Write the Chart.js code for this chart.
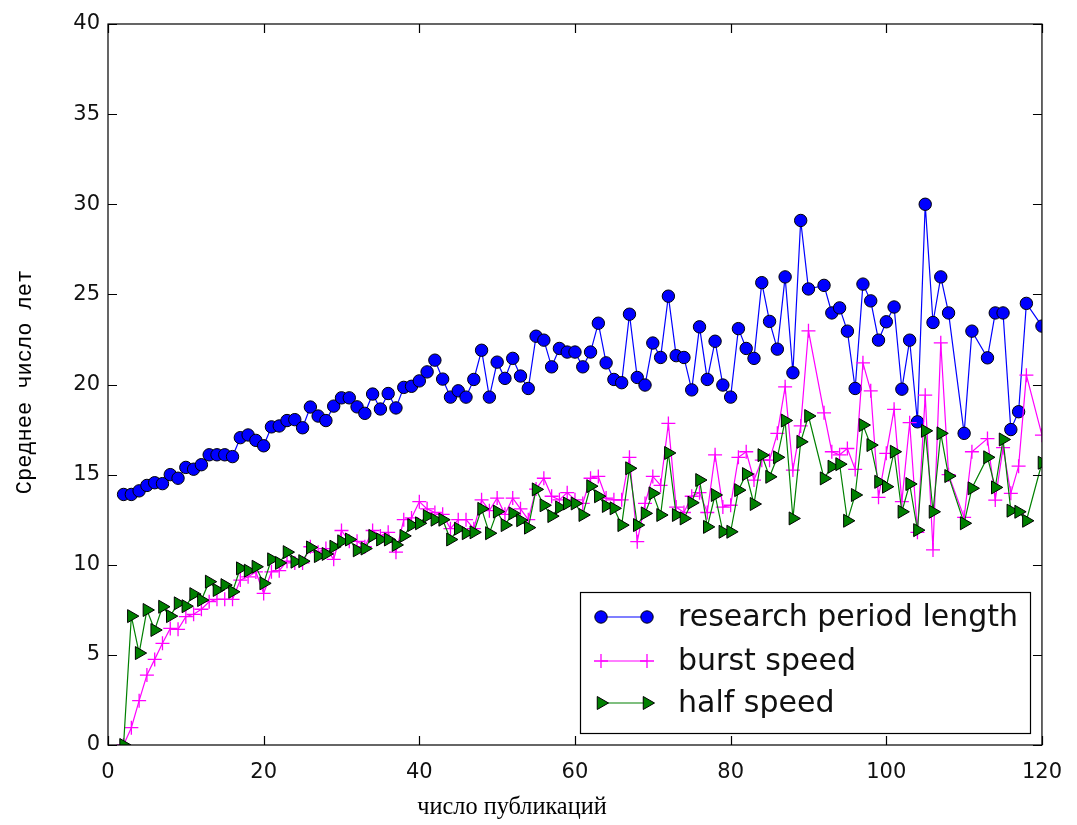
<!DOCTYPE html>
<html>
<head>
<meta charset="utf-8">
<script src="https://cdn.jsdelivr.net/npm/chart.js@4.4.1/dist/chart.umd.min.js"></script>
<style>
html,body{margin:0;padding:0;background:#fff;}
#wrap{width:1077px;height:825px;}
</style>
</head>
<body>
<div id="wrap"><canvas id="c" width="1077" height="825"></canvas></div>
<script>
// ---- data ----
const pubCounts = [2,3,4,5,6,7,8,9,10,11,12,13,14,15,16,17,18,19,20,21,22,23,24,25,26,27,28,29,30,
  31,32,33,34,35,36,37,38,39,40,41,42,43,44,45,46,47,48,49,50,51,52,53,54,55,56,57,58,59,60,
  61,62,63,64,65,66,67,68,69,70,71,72,73,74,75,76,77,78,79,80,81,82,83,84,85,86,87,88,89,90,
  92,93,94,95,96,97,98,99,100,101,102,103,104,105,106,107,108,110,111,113,114,115,116,117,118,120];

const researchPeriod = [13.9,13.9,14.1,14.4,14.55,14.5,15.0,14.8,15.4,15.3,15.55,16.1,16.1,16.1,16.0,17.05,17.2,16.9,16.6,17.65,17.7,18.0,18.05,17.6,18.75,18.25,18.0,18.8,19.26,
  19.26,18.76,18.4,19.47,18.64,19.5,18.7,19.84,19.9,20.2,20.7,21.35,20.3,19.3,19.65,19.3,20.28,21.9,19.3,21.24,20.34,21.45,20.47,19.78,22.68,22.46,20.98,22.0,21.8,21.8,
  20.98,21.8,23.4,21.2,20.28,20.1,23.9,20.39,19.97,22.3,21.5,24.9,21.6,21.5,19.7,23.2,20.28,22.4,19.97,19.3,23.1,22.0,21.45,25.65,23.5,21.96,25.97,20.65,29.1,25.3,
  25.5,23.97,24.25,22.96,19.78,25.57,24.64,22.46,23.48,24.3,19.74,22.46,17.93,30.0,23.44,25.97,23.97,17.29,22.96,21.48,23.97,23.97,17.5,18.49,24.5,23.24];

const burstSpeed = [0,0.96,2.46,3.88,4.75,5.64,6.47,6.42,7.12,7.25,7.53,7.95,8.08,8.08,8.08,9.15,9.33,9.6,8.41,9.61,9.67,10.2,10.1,10.1,11.0,10.7,10.9,10.3,11.9,
  11.3,11.3,11.0,11.9,11.6,11.8,10.7,12.5,12.6,13.5,13.1,12.9,12.8,12.0,12.5,12.5,12.0,13.6,13.0,13.7,12.8,13.7,13.1,12.5,14.2,14.8,13.8,13.6,14.0,13.6,
  13.4,14.8,14.9,13.7,13.6,13.6,15.96,11.28,13.4,14.9,14.4,17.84,13.2,12.9,13.8,14.0,12.9,16.1,13.2,13.3,15.96,16.27,14.7,15.8,15.8,17.29,19.87,15.25,17.7,22.98,
  18.43,16.27,16.1,16.45,15.29,21.2,19.65,13.74,16.18,18.62,13.5,17.88,11.8,19.41,10.82,22.31,15.0,12.63,16.27,17.0,13.59,16.5,13.96,15.47,20.52,17.19];

const halfSpeed = [0,7.15,5.1,7.49,6.38,7.67,7.15,7.86,7.7,8.37,8.04,9.06,8.6,8.87,8.5,9.8,9.67,9.89,8.97,10.3,10.1,10.7,10.17,10.2,10.96,10.48,10.6,11.0,11.3,
  11.4,10.8,10.9,11.6,11.4,11.4,11.1,11.6,12.2,12.3,12.7,12.5,12.5,11.4,12.0,11.75,11.8,13.1,11.75,12.95,12.2,12.85,12.47,12.06,14.18,13.3,12.7,13.18,13.4,13.4,
  12.76,14.36,13.8,13.26,13.13,12.2,15.35,12.2,12.85,13.96,12.76,16.2,12.76,12.57,13.44,14.7,12.1,13.87,11.83,11.83,14.14,15.03,13.37,16.08,14.88,15.96,18.0,12.57,16.82,18.25,
  14.79,15.44,15.58,12.44,13.87,17.75,16.64,14.6,14.33,16.27,12.94,14.48,11.92,17.43,12.94,17.29,14.92,12.3,14.24,15.96,14.29,16.95,13.0,12.94,12.44,15.66];

const xTicks = [0,20,40,60,80,100,120];
const yTicks = [0,5,10,15,20,25,30,35,40];
const seriesNames = ['research period length','burst speed','half speed'];
const xTitle = 'число публикаций';
const yTitle = 'Среднее число лет';

const toPts = arr => pubCounts.map((x,i)=>({x:x,y:arr[i]}));

const frameTicks = {
  id:'frameTicks',
  afterDraw(chart){
    const ctx = chart.ctx, a = chart.chartArea;
    const xs = chart.scales.x, ys = chart.scales.y;
    ctx.save();
    ctx.strokeStyle = '#000'; ctx.lineWidth = 1.2;
    ctx.strokeRect(a.left, a.top, a.right-a.left, a.bottom-a.top);
    const L = 9;
    ctx.beginPath();
    yTicks.forEach(v=>{
      const p = Math.round(ys.getPixelForValue(v))+0.5;
      ctx.moveTo(a.left,p); ctx.lineTo(a.left+L,p);
      ctx.moveTo(a.right,p); ctx.lineTo(a.right-L,p);
    });
    xTicks.forEach(v=>{
      const p = Math.round(xs.getPixelForValue(v))+0.5;
      ctx.moveTo(p,a.bottom); ctx.lineTo(p,a.bottom-L);
      ctx.moveTo(p,a.top); ctx.lineTo(p,a.top+L);
    });
    ctx.stroke();

    // axis titles
    ctx.fillStyle = '#000';
    ctx.textAlign = 'center'; ctx.textBaseline = 'middle';
    ctx.font = '20px "Liberation Serif"';
    const w = ctx.measureText(xTitle).width;
    const fs = 20*189/w;
    ctx.font = fs.toFixed(1)+'px "Liberation Serif"';
    ctx.fillText(xTitle, 512, 808);
    ctx.save();
    ctx.translate(25, 382);
    ctx.rotate(-Math.PI/2);
    ctx.font = '22px "Liberation Mono"';
    ctx.fillText(yTitle, 0, 0);
    ctx.restore();

    // legend
    const bx=580, by=592, bw=450, bh=141;
    ctx.fillStyle='#fff';
    ctx.fillRect(bx,by,bw,bh);
    ctx.lineWidth=1.2; ctx.strokeStyle='#000';
    ctx.strokeRect(bx+0.5,by+0.5,bw,bh);
    const rows=[617,661,703];
    const x1=601, x2=647;
    ctx.font='26px "DejaVu Sans"';
    const lw = ctx.measureText(seriesNames[0]).width;
    const lfs = 26*340/lw;
    ctx.font=lfs.toFixed(1)+'px "DejaVu Sans"';
    ctx.textAlign='left';
    ctx.textBaseline='middle';
    rows.forEach((ry,i)=>{
      const ds = chart.data.datasets[i];
      ctx.beginPath(); ctx.strokeStyle=ds.borderColor; ctx.lineWidth=1.2;
      ctx.moveTo(x1,ry); ctx.lineTo(x2,ry); ctx.stroke();
      [x1,x2].forEach(px=>{
        ctx.fillStyle = ds.pointBackgroundColor;
        ctx.strokeStyle = ds.pointBorderColor;
        ctx.lineWidth = ds.pointBorderWidth;
        Chart.helpers.drawPoint(ctx,{pointStyle:ds.pointStyle,rotation:ds.pointRotation||0,radius:ds.pointRadius,borderWidth:ds.pointBorderWidth},px,ry);
      });
      ctx.fillStyle='#111';
      ctx.fillText(seriesNames[i],678,ry+1);
    });
    ctx.restore();
  }
};

const chart = new Chart(document.getElementById('c'), {
  type:'line',
  data:{
    datasets:[
      {label:seriesNames[0], data:toPts(researchPeriod), borderColor:'#0000ff', borderWidth:1.2,
       pointStyle:'circle', pointRadius:6.2, pointBackgroundColor:'#0000ff', pointBorderColor:'#000', pointBorderWidth:1, order:2},
      {label:seriesNames[1], data:toPts(burstSpeed), borderColor:'#ff00ff', borderWidth:1.2,
       pointStyle:'cross', pointRadius:7, pointBackgroundColor:'#ff00ff', pointBorderColor:'#ff00ff', pointBorderWidth:1.3, order:1},
      {label:seriesNames[2], data:toPts(halfSpeed), borderColor:'#008000', borderWidth:1.2,
       pointStyle:'triangle', pointRotation:90, pointRadius:7.5, pointBackgroundColor:'#008000', pointBorderColor:'#000', pointBorderWidth:1, order:0}
    ]
  },
  options:{
    responsive:false, animation:false, devicePixelRatio:1,
    layout:{padding:{left:0,right:35,top:24,bottom:0}},
    plugins:{legend:{display:false}, tooltip:{enabled:false}},
    elements:{line:{tension:0}},
    scales:{
      x:{type:'linear', min:0, max:120,
        afterBuildTicks(s){ s.ticks = xTicks.map(v=>({value:v})); },
        afterFit(s){ s.height = 80; },
        grid:{display:false, drawTicks:false}, border:{display:false},
        ticks:{color:'#111', font:{family:'DejaVu Sans', size:21}, padding:15, maxRotation:0},
        title:{display:false}
      },
      y:{type:'linear', min:0, max:40,
        afterBuildTicks(s){ s.ticks = yTicks.map(v=>({value:v})); },
        afterFit(s){ s.width = 108; },
        grid:{display:false, drawTicks:false}, border:{display:false},
        ticks:{color:'#111', font:{family:'DejaVu Sans', size:21}, padding:8},
        title:{display:false}
      }
    }
  },
  plugins:[frameTicks]
});
</script>
</body>
</html>
